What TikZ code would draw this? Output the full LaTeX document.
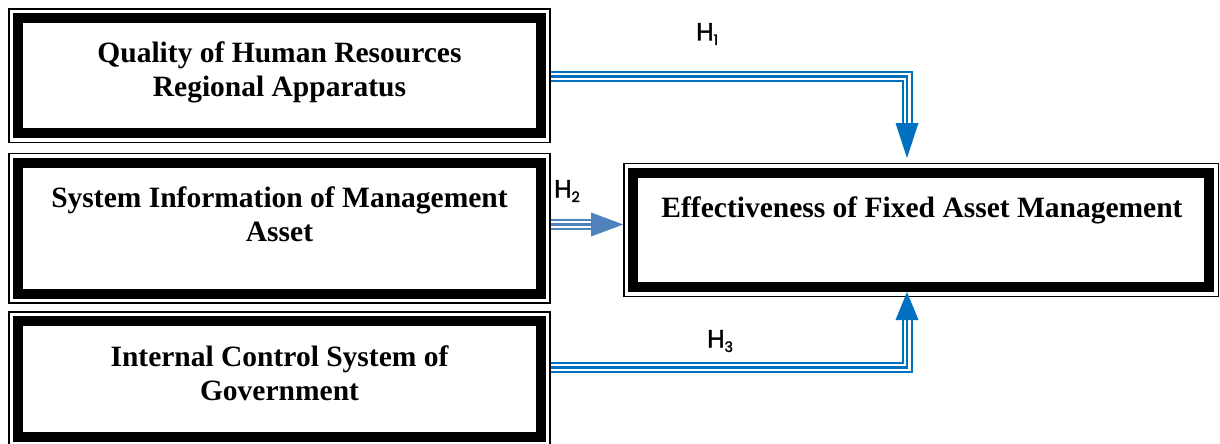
\documentclass[tikz,border=0pt]{standalone}
\usepackage{fontspec}
\setmainfont{Liberation Serif}
\newfontfamily\hlfont[FakeBold=1.6]{Poppins}
\usetikzlibrary{calc}
\definecolor{hblue}{RGB}{0,112,192}
\definecolor{sblue}{RGB}{79,129,189}
\tikzset{
  box/.style={draw=black, line width=1.5pt, inner sep=0pt, minimum width=#1},
  boxtext/.style={anchor=base, inner sep=0pt, font=\fontsize{29.5}{34.5}\selectfont\bfseries},
  triple/.style={draw=#1, line width=2pt, double=white, double distance=7pt,
    postaction={draw=#1, line width=2.5pt}},
  hlabel/.style={anchor=base west, inner sep=0pt},
}
\newcommand{\hsub}[1]{{\hlfont\fontsize{25}{30}\selectfont H\raisebox{-4.5pt}{\fontsize{14.5}{18}\selectfont #1}}}
\newcommand{\framebits}[1]{%
  \draw[line width=10pt] ($(#1.north west)+(10,10)$) rectangle ($(#1.south east)+(-10,-10)$);}
\begin{document}
\begin{tikzpicture}[x=1pt,y=-1pt]
\clip (0,0) rectangle (1220,444);
\fill[white] (0,0) rectangle (1220,444);
% boxes (outer thin rectangles)
\node[box=541pt, minimum height=133.5pt] (b1) at (279.5,75.75) {};
\node[box=541pt, minimum height=149.5pt] (b2) at (279.5,228) {};
\node[box=541pt, minimum height=134pt] (b3) at (279.5,379) {};
\node[box=594.5pt, minimum height=133pt] (t) at (921.25,230) {};
\framebits{b1}
\framebits{b2}
\framebits{b3}
\framebits{t}
% texts
\node[boxtext] (tx1) at (279.5,62.3) {\begin{tabular}[t]{@{}c@{}}Quality of Human Resources\\ Regional Apparatus\end{tabular}};
\node[boxtext] (tx2) at (279.5,207) {\begin{tabular}[t]{@{}c@{}}System Information of Management\\ Asset\end{tabular}};
\node[boxtext] (tx3) at (279.5,366) {\begin{tabular}[t]{@{}c@{}}Internal Control System of\\ Government\end{tabular}};
\node[boxtext] (tx4) at (922,217) {Effectiveness of Fixed Asset Management};
% connector coordinates
\coordinate (h1s) at (b1.east |- 0,76.5);
\coordinate (h1e) at (907,123);
\coordinate (h1t) at (907,158);
\coordinate (h2s) at (b2.east |- 0,224.5);
\coordinate (h2e) at (591,224.5);
\coordinate (h2t) at (t.west |- 0,224.5);
\coordinate (h3s) at (b3.east |- 0,367.5);
\coordinate (h3e) at (907,320);
\coordinate (h3t) at (907,292);
% H1
\draw[triple=hblue] (h1s) -| (h1e);
\fill[hblue] ($(h1e)+(-11.5,0)$) -- ($(h1e)+(11.5,0)$) -- (h1t) -- cycle;
% H2
\draw[triple=sblue] (h2s) -- (h2e);
\fill[sblue] ($(h2e)+(0,-12)$) -- ($(h2e)+(0,12)$) -- (h2t) -- cycle;
% H3
\draw[triple=hblue] (h3s) -| (h3e);
\fill[hblue] ($(h3e)+(-11.5,0)$) -- ($(h3e)+(11.5,0)$) -- (h3t) -- cycle;
% labels
\node[hlabel] (l1) at (696,40.5) {\hsub{1}};
\node[hlabel] (l2) at (554,197.5) {\hsub{2}};
\node[hlabel] (l3) at (707,347.5) {\hsub{3}};
\end{tikzpicture}
\end{document}
